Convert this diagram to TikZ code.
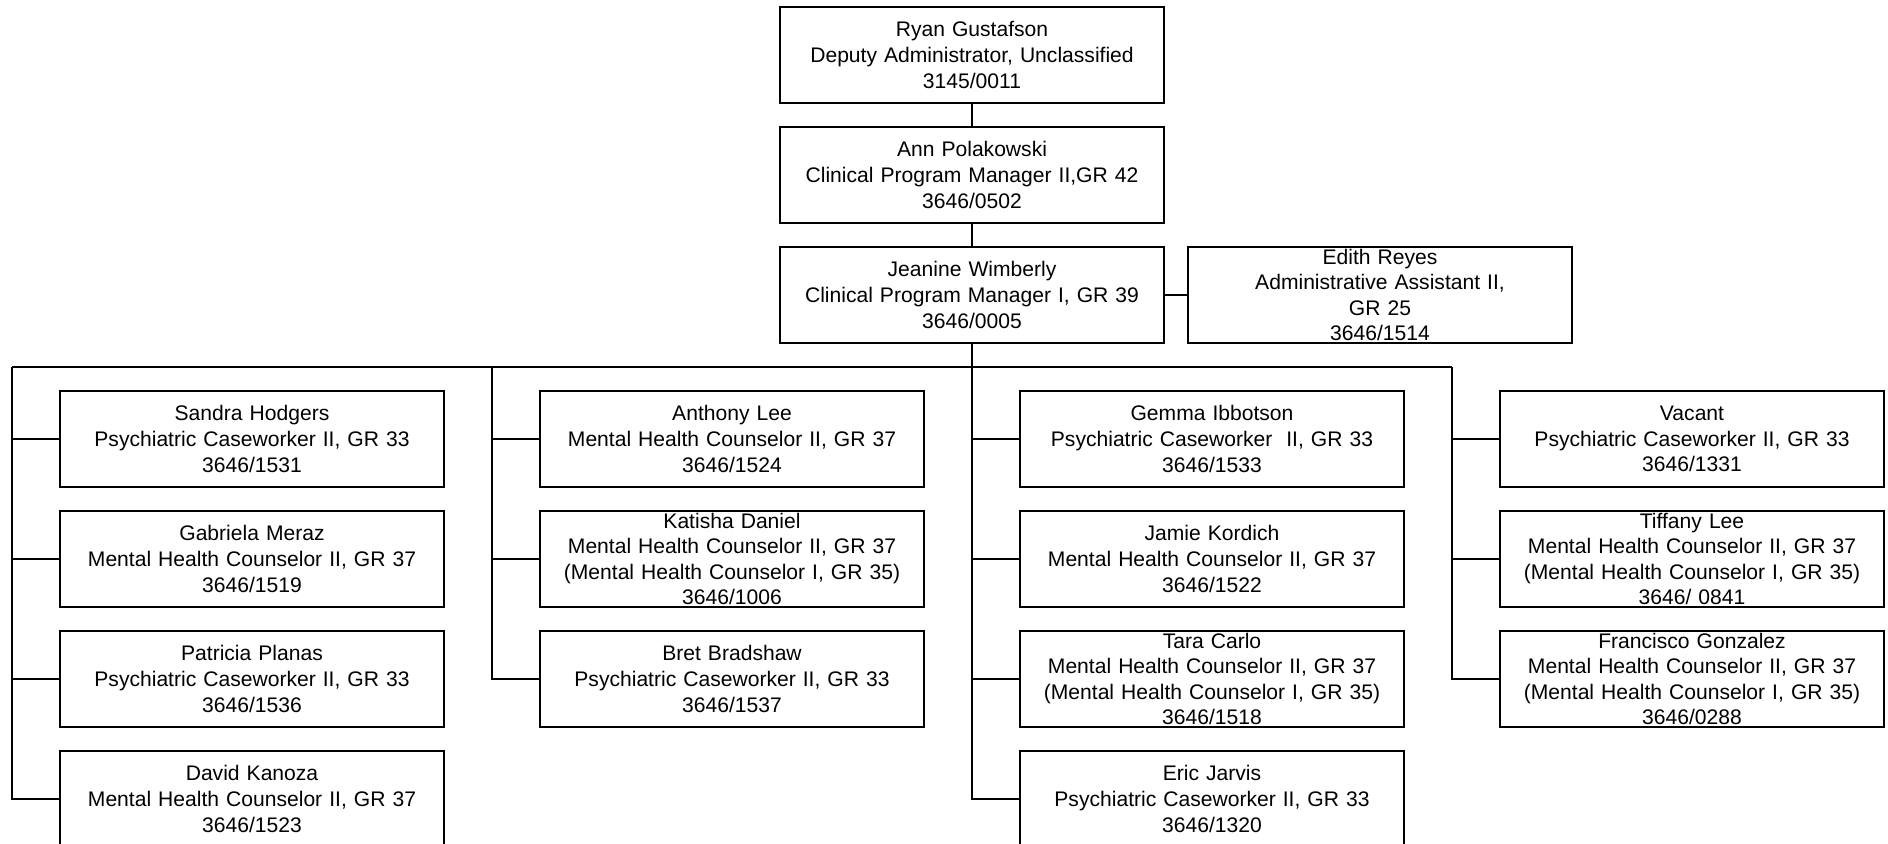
\documentclass[tikz,border=0pt]{standalone}
\usepackage{fontspec}
\setmainfont{Liberation Sans}
\begin{document}
\begin{tikzpicture}[x=0.02cm,y=-0.02cm,
		staff/.style={draw,line width=0.8pt,inner sep=0pt,text width=7.68cm,minimum height=1.92cm,align=center,font=\fontsize{12}{14.57}\selectfont},
		link/.style={line width=0.8pt}]
		\useasboundingbox(0,0)rectangle(1888,844);
		\node[staff](ryan)at(972,55){Ryan Gustafson\\Deputy Administrator, Unclassified\\3145/0011};
		\node[staff](ann)at(972,175){Ann Polakowski\\Clinical Program Manager II,GR 42\\3646/0502};
		\node[staff](jeanine)at(972,295){Jeanine Wimberly\\Clinical Program Manager I, GR 39\\3646/0005};
		\node[staff](edith)at(1380,295){Edith Reyes\\Administrative Assistant II,\\GR 25\\3646/1514};
		\node[staff](sandra)at(252,439){Sandra Hodgers\\Psychiatric Caseworker II, GR 33\\3646/1531};
		\node[staff](gabriela)at(252,559){Gabriela Meraz\\Mental Health Counselor II, GR 37\\3646/1519};
		\node[staff](patricia)at(252,679){Patricia Planas\\Psychiatric Caseworker II, GR 33\\3646/1536};
		\node[staff](david)at(252,799){David Kanoza\\Mental Health Counselor II, GR 37\\3646/1523};
		\node[staff](anthony)at(732,439){Anthony Lee\\Mental Health Counselor II, GR 37\\3646/1524};
		\node[staff](katisha)at(732,559){Katisha Daniel\\Mental Health Counselor II, GR 37\\(Mental Health Counselor I, GR 35)\\3646/1006};
		\node[staff](bret)at(732,679){Bret Bradshaw\\Psychiatric Caseworker II, GR 33\\3646/1537};
		\node[staff](gemma)at(1212,439){Gemma Ibbotson\\Psychiatric Caseworker~ II, GR 33\\3646/1533};
		\node[staff](jamie)at(1212,559){Jamie Kordich\\Mental Health Counselor II, GR 37\\3646/1522};
		\node[staff](tara)at(1212,679){Tara Carlo\\Mental Health Counselor II, GR 37\\(Mental Health Counselor I, GR 35)\\3646/1518};
		\node[staff](eric)at(1212,799){Eric Jarvis\\Psychiatric Caseworker II, GR 33\\3646/1320};
		\node[staff](vacant)at(1692,439){Vacant\\Psychiatric Caseworker II, GR 33\\3646/1331};
		\node[staff](tiffany)at(1692,559){Tiffany Lee\\Mental Health Counselor II, GR 37\\(Mental Health Counselor I, GR 35)\\3646/ 0841};
		\node[staff](francisco)at(1692,679){Francisco Gonzalez\\Mental Health Counselor II, GR 37\\(Mental Health Counselor I, GR 35)\\3646/0288};
		\coordinate(busa)at(12,367);
		\coordinate(busb)at(492,367);
		\coordinate(busc)at(972,367);
		\coordinate(busd)at(1452,367);
		\draw[link](ryan)--(ann);
		\draw[link](ann)--(jeanine);
		\draw[link](jeanine)--(edith);
		\draw[link](jeanine)--(busc);
		\draw[link](busa)--(busd);
		\foreach \n in {sandra,gabriela,patricia,david}\draw[link](busa)|-(\n.west);
		\foreach \n in {anthony,katisha,bret}\draw[link](busb)|-(\n.west);
		\foreach \n in {gemma,jamie,tara,eric}\draw[link](busc)|-(\n.west);
		\foreach \n in {vacant,tiffany,francisco}\draw[link](busd)|-(\n.west);
	\end{tikzpicture}
\end{document}
